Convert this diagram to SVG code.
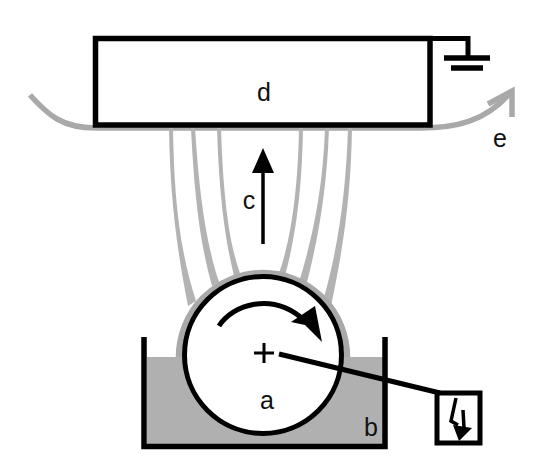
<svg xmlns="http://www.w3.org/2000/svg" width="554" height="456" viewBox="0 0 554 456">
<style>
.k{fill:none;stroke:#000;stroke-linecap:butt}
.g{fill:none;stroke:#a9a9a9;stroke-linecap:butt}
.f{fill:#b3b3b3}
text{font-family:"Liberation Sans",Arial,sans-serif;font-size:25px;fill:#111;text-anchor:middle}
</style>
<rect width="554" height="456" fill="#fff"/>
<g id="bath">
<path d="M147 357H383V444H147Z" fill="#b0b0b0"/>
<path class="k" stroke-width="5.500" d="M144 337V446.500H385V337"/>
</g>
<g id="connectors">
<path class="g" stroke-width="5.500" d="M30 95C48 115 62 128 96 128H420C455 128 485 122 510 93"/>
<path class="g" stroke-width="5.500" d="M488 104L512 91L512 117"/>
<path class="f" d="M169 128H173C174 190 178 245 196 301L188 306C175 240 170 190 169 128Z"/>
<path class="f" d="M191 128H195C199 190 205 240 219 282L212 286C199 240 194 190 191 128Z"/>
<path class="f" d="M217 128H221C223 190 228 240 240 273L234 276C224 235 219 190 217 128Z"/>
<path class="f" d="M299 128H303C302 190 296 235 285 276L279 273C291 240 298 190 299 128Z"/>
<path class="f" d="M325 128H329C327 190 318 240 306 286L299 282C312 240 323 190 325 128Z"/>
<path class="f" d="M348 128H352C351 190 345 240 331 306L323 301C339 245 346 190 348 128Z"/>
<path class="k" stroke-width="3.500" d="M263 244V168"/>
<path d="M263 148L252 173H274Z"/>
</g>
<g id="drum">
<circle cx="263" cy="355" r="79" fill="#fff"/>
<path class="g" stroke-width="6.500" d="M179 357A84 84 0 0 1 347 357"/>
<circle cx="263" cy="355" r="78.500" fill="#fff" stroke="#000" stroke-width="5"/>
<path class="k" stroke-width="5" d="M219 326C232 305 272 291 304 320"/>
<path d="M291 322L315 306L322 342L305 325Z"/>
<path class="k" stroke-width="3" d="M254 353H274M264 343V363"/>
<text x="267" y="409">a</text>
</g>
<g id="plate">
<rect x="95.500" y="38.500" width="334.500" height="86.500" fill="#fff" stroke="#000" stroke-width="5.500"/>
<text x="264" y="101">d</text>
</g>
<g id="ground">
<path class="k" stroke-width="5" d="M430 38.500H468V58"/>
<path class="k" stroke-width="5.500" d="M444 58H490M451 68H483"/>
</g>
<g id="source">
<rect x="437" y="393" width="43" height="50" fill="#fff" stroke="#000" stroke-width="5"/>
<path class="k" stroke-width="3.500" d="M456 398L451 421L458 425M463 410L464 428"/>
<path d="M453 425L472 428L459 441Z"/>
</g>
<g id="wire"><path class="k" stroke-width="5" d="M279 354L440 393"/></g>
<g id="label-b"><text x="371" y="436">b</text></g>
<g id="label-c"><text x="249" y="209">c</text></g>
<g id="label-e"><text x="500" y="147">e</text></g>
</svg>
